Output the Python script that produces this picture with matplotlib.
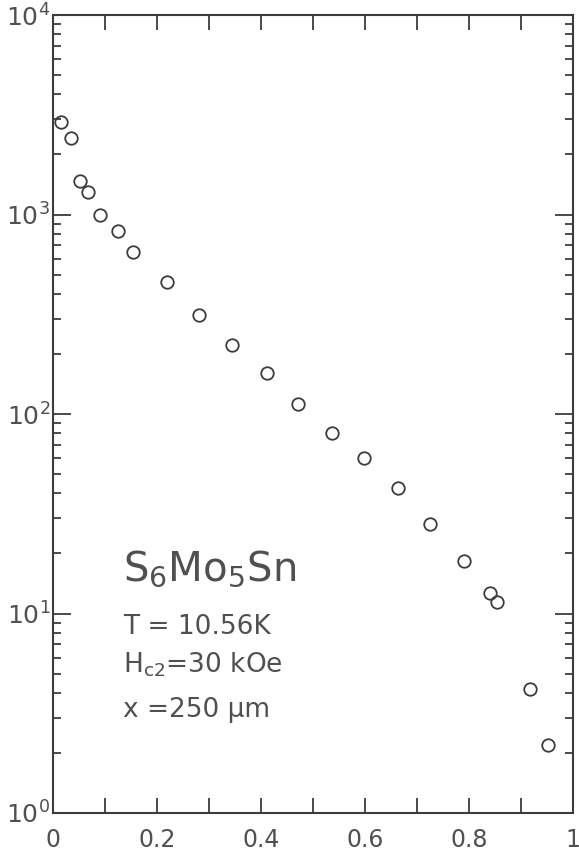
"""Attenuation vs. reduced position for S6Mo5Sn, semi-log plot."""
import matplotlib
matplotlib.use("Agg")
import matplotlib.pyplot as plt
from matplotlib.ticker import FixedLocator, LogLocator, LogFormatterMathtext

# measured points
x_vals = [0.015, 0.035, 0.052, 0.067, 0.090, 0.125, 0.154, 0.219, 0.281,
          0.344, 0.411, 0.472, 0.537, 0.598, 0.664, 0.725, 0.790, 0.840,
          0.854, 0.917, 0.951]
y_vals = [2920, 2430, 1480, 1300, 1000, 822, 646, 457, 312,
          222, 160, 112, 80, 60, 42.5, 28.2, 18.4, 12.6,
          11.4, 4.2, 2.2]

x_major = [0, 0.2, 0.4, 0.6, 0.8, 1.0]
x_minor = [0.1, 0.3, 0.5, 0.7, 0.9]
x_labels = ["0", "0.2", "0.4", "0.6", "0.8", "1"]

ink = "#3c3c3c"
txt = "#505050"

plt.rcParams["font.family"] = ["DejaVu Sans"]

fig = plt.figure(figsize=(5.79, 8.52), dpi=100)
ax = fig.add_axes([53 / 579, 39 / 852, 520 / 579, 798 / 852])

ax.plot(x_vals, y_vals, linestyle="none", marker="o", markersize=9,
        markerfacecolor="none", markeredgecolor=ink, markeredgewidth=1.3)

ax.set_yscale("log")
ax.set_xlim(0, 1)
ax.set_ylim(1, 1e4)

for s in ax.spines.values():
    s.set_color(ink)
    s.set_linewidth(1.5)

ax.xaxis.set_major_locator(FixedLocator(x_major))
ax.xaxis.set_minor_locator(FixedLocator(x_minor))
ax.set_xticklabels(x_labels)
ax.yaxis.set_major_locator(LogLocator(base=10, numticks=10))
ax.yaxis.set_minor_locator(LogLocator(base=10, subs=range(2, 10), numticks=20))
ax.yaxis.set_major_formatter(LogFormatterMathtext())

ax.tick_params(axis="x", which="both", direction="in", top=True, bottom=True,
               length=11, width=1.3, color=ink, labelsize=17, labelcolor=txt, pad=11)
ax.tick_params(axis="y", which="major", direction="in", left=True, right=True,
               length=13, width=1.3, color=ink, labelsize=18, labelcolor=txt, pad=2)
ax.tick_params(axis="y", which="minor", direction="in", left=True, right=True,
               length=6, width=1.3, color=ink)

ax.text(0.135, 0.291, r"S$\mathregular{_6}$Mo$\mathregular{_5}$Sn",
        transform=ax.transAxes, fontsize=29, color=txt, va="baseline", ha="left")
ax.text(0.135, 0.224, "T = 10.56K", transform=ax.transAxes,
        fontsize=19, color=txt, va="baseline", ha="left")
ax.text(0.135, 0.176, r"H$\mathregular{_{c2}}$=30 kOe", transform=ax.transAxes,
        fontsize=19, color=txt, va="baseline", ha="left")
ax.text(0.135, 0.120, "x =250 μm", transform=ax.transAxes,
        fontsize=19, color=txt, va="baseline", ha="left")

fig.savefig("out.png", dpi=100)
